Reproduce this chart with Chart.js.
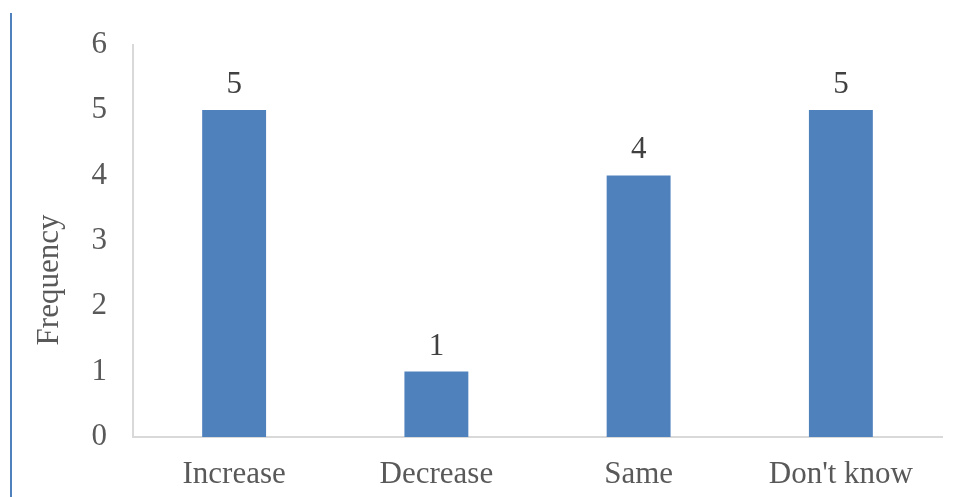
<!DOCTYPE html>
<html>
<head>
<meta charset="utf-8">
<script src="https://cdn.jsdelivr.net/npm/chart.js@4/dist/chart.umd.min.js"></script>
<style>
  html, body { margin: 0; padding: 0; background: #fff; }
  #wrap { position: relative; width: 956px; height: 497px; }
</style>
</head>
<body>
<div id="wrap"><canvas id="grafico"></canvas></div>
<script>
const categories = ['Increase', 'Decrease', 'Same', "Don't know"];
const frequency = [5, 1, 4, 5];
const yTicks = [0, 1, 2, 3, 4, 5, 6];

const FONT = "'Liberation Serif', 'Times New Roman', serif";

// etiquetas encima de cada barra
const barLabels = {
    id: 'barLabels',
    afterDatasetsDraw(chart) {
        const ctx = chart.ctx;
        const meta = chart.getDatasetMeta(0);
        ctx.save();
        ctx.font = '31px ' + FONT;
        ctx.fillStyle = '#404040';
        ctx.textAlign = 'center';
        ctx.textBaseline = 'alphabetic';
        meta.data.forEach(function (bar, i) {
            ctx.fillText(String(frequency[i]), bar.x, bar.y - 17);
        });
        ctx.restore();
    }
};

// título del eje y y línea azul a la izquierda
const extras = {
    id: 'extras',
    afterDraw(chart) {
        const ctx = chart.ctx;
        ctx.save();
        ctx.fillStyle = '#4F81BD';
        ctx.fillRect(10, 13, 2, chart.height - 13);
        ctx.translate(50, 280);
        ctx.rotate(-Math.PI / 2);
        ctx.font = '31px ' + FONT;
        ctx.fillStyle = '#595959';
        ctx.textAlign = 'center';
        ctx.textBaseline = 'middle';
        ctx.fillText('Frequency', 0, 0);
        ctx.restore();
    }
};

new Chart(document.getElementById('grafico').getContext('2d'), {
    type: 'bar',
    data: {
        labels: categories,
        datasets: [{
            label: 'Frequency',
            data: frequency,
            backgroundColor: '#4F81BD',
            borderWidth: 0,
            categoryPercentage: 1,
            barPercentage: 0.316
        }]
    },
    options: {
        responsive: true,
        maintainAspectRatio: false,
        animation: false,
        layout: { padding: { top: 44, right: 14, bottom: 0, left: 0 } },
        plugins: { legend: { display: false }, tooltip: { enabled: false } },
        scales: {
            x: {
                grid: { display: false, drawTicks: false },
                border: { color: '#D9D9D9', width: 2 },
                ticks: { color: '#595959', font: { family: FONT, size: 31 }, padding: 19, maxRotation: 0 },
                afterFit(scale) { scale.height = 60; }
            },
            y: {
                min: 0,
                max: yTicks[yTicks.length - 1],
                afterBuildTicks(scale) { scale.ticks = yTicks.map(v => ({ value: v })); },
                grid: { display: false, drawTicks: false },
                border: { color: '#D9D9D9', width: 2 },
                ticks: { color: '#595959', font: { family: FONT, size: 31 }, padding: 26 },
                afterFit(scale) { scale.width = 133; }
            }
        }
    },
    plugins: [barLabels, extras]
});
</script>
</body>
</html>
